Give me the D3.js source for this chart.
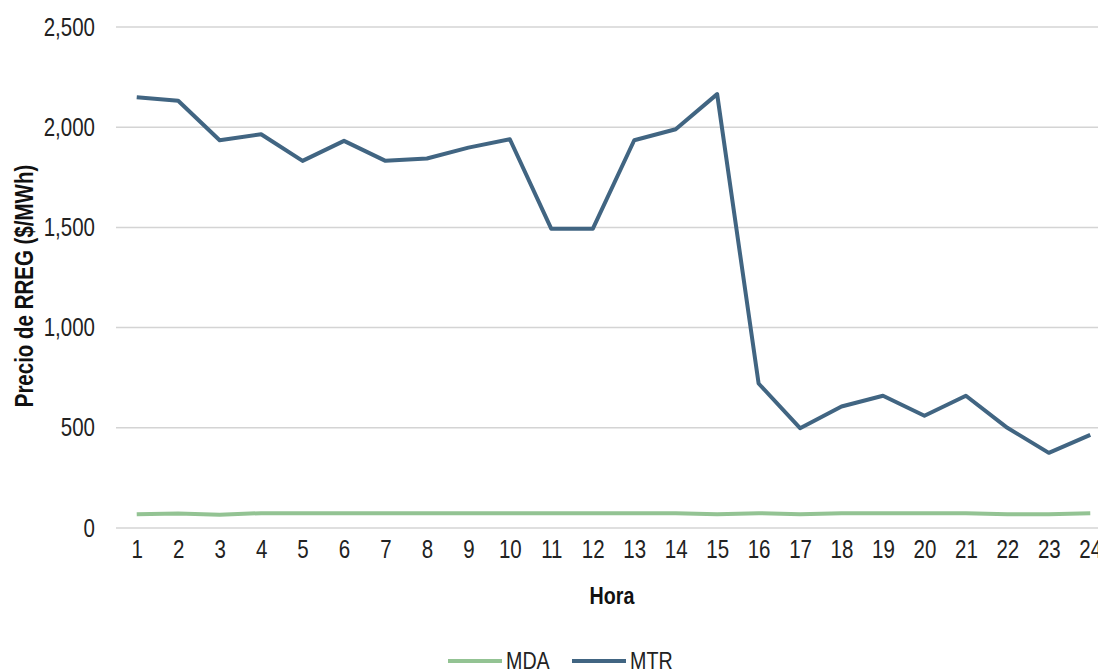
<!DOCTYPE html>
<html><head><meta charset="utf-8">
<script src="https://cdn.jsdelivr.net/npm/d3@7"></script>
<style>
body{margin:0;background:#fff;}
text{font-family:"Liberation Sans",Arial,sans-serif;}
</style></head>
<body><svg id="c" width="1098" height="672"></svg>
<script>
const hours = ["1","2","3","4","5","6","7","8","9","10","11","12","13","14","15","16","17","18","19","20","21","22","23","24"];
const mda = [68,72,66,74,74,74,74,74,74,74,74,74,74,74,68,74,68,74,74,74,74,68,68,74];
const mtr = [2150,2132,1935,1965,1832,1932,1832,1844,1898,1940,1493,1493,1935,1990,2165,721,498,606,660,560,660,500,375,465];
const yTicks = [0,500,1000,1500,2000,2500];
const seriesNames = ["MDA","MTR"];
const colors = ["#93c393","#416582"];

const NARROW = 0.82; // emulate Arial Narrow with horizontally condensed Liberation Sans
const svg = d3.select("#c");
const pLeft = 116, pRight = 1111, pTop = 27, pBottom = 528;
const x = d3.scalePoint().domain(hours).range([pLeft, pRight]).padding(0.5);
const y = d3.scaleLinear().domain([0,2500]).range([pBottom, pTop]);

// gridlines
svg.append("g").selectAll("line").data(yTicks).join("line")
  .attr("x1", pLeft).attr("x2", 1098)
  .attr("y1", d=>y(d)).attr("y2", d=>y(d))
  .attr("stroke", "#d4d4d4").attr("stroke-width", 1.5);

// y axis
const yAxis = svg.append("g").attr("transform", `translate(${pLeft},0)`)
  .call(d3.axisLeft(y).tickValues(yTicks).tickFormat(d3.format(",")).tickSize(0).tickPadding(21/NARROW));
yAxis.select(".domain").remove();
yAxis.selectAll("text").attr("font-size", 25).attr("fill", "#222")
  .attr("transform", `scale(${NARROW},1)`);

// x axis
const xAxis = svg.append("g").attr("transform", `translate(0,${pBottom})`)
  .call(d3.axisBottom(x).tickSize(0).tickPadding(12));
xAxis.select(".domain").remove();
xAxis.selectAll("text").attr("font-size", 25).attr("fill", "#222")
  .attr("transform", `scale(${NARROW},1)`);

// axis titles
svg.append("text").attr("transform", `translate(612,604) scale(${NARROW},1)`)
  .attr("text-anchor","middle").attr("font-size", 24).attr("font-weight","bold").attr("fill","#111")
  .text("Hora");
svg.append("text").attr("transform", `translate(33,286) rotate(-90) scale(${NARROW},1)`)
  .attr("text-anchor","middle").attr("font-size", 25).attr("font-weight","bold").attr("fill","#111")
  .text("Precio de RREG ($/MWh)");

// lines
const line = d3.line().x((d,i)=>x(hours[i])).y(d=>y(d));
[mda, mtr].forEach((s, k) => {
  svg.append("path").datum(s).attr("d", line)
    .attr("fill","none").attr("stroke", colors[k]).attr("stroke-width", 4)
    .attr("stroke-linejoin","round");
});

// legend
const legX = [448, 572];
seriesNames.forEach((n,k) => {
  const g = svg.append("g");
  g.append("line").attr("x1", legX[k]).attr("x2", legX[k]+54).attr("y1", 661).attr("y2", 661)
    .attr("stroke", colors[k]).attr("stroke-width", 4);
  g.append("text").attr("transform", `translate(${legX[k]+58},669) scale(${NARROW},1)`)
    .attr("font-size", 24).attr("fill","#222").text(n);
});
</script></body></html>
